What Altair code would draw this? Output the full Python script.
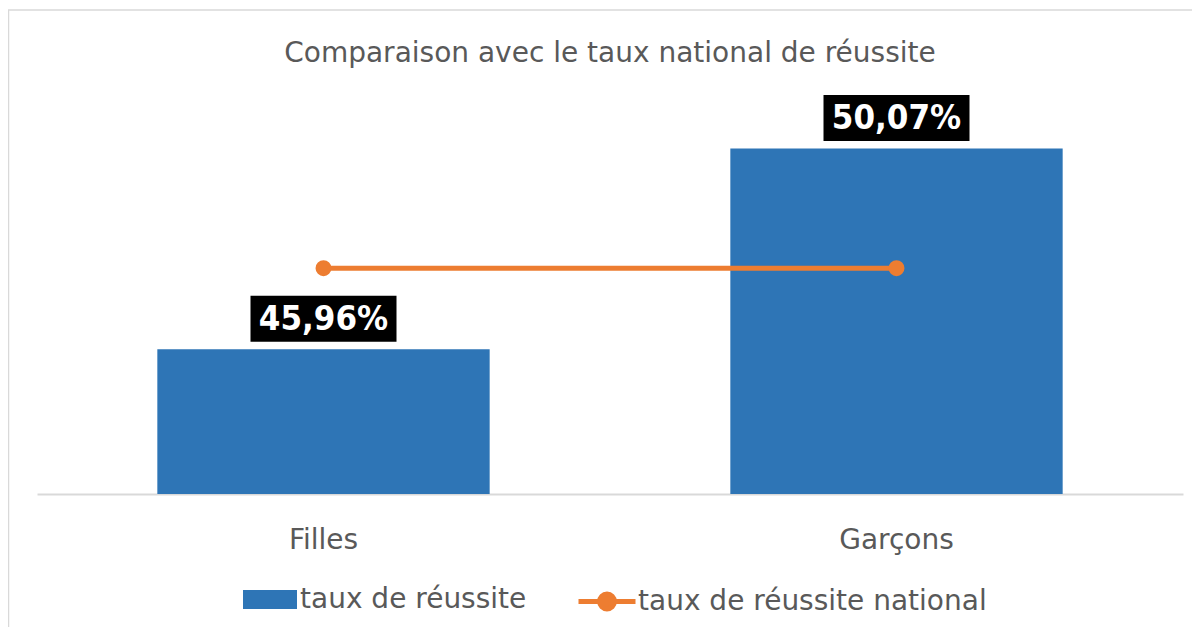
import altair as alt
import pandas as pd

categories = ["Filles", "Garçons"]
taux = [45.96, 50.07]
national = [47.62, 47.62]
labels = ["45,96%", "50,07%"]
series_bar = "taux de réussite"
series_line = "taux de réussite national"
Y_MIN, Y_MAX = 43, 51

BLUE = "#2E75B6"
ORANGE = "#ED7D31"
GREY_TXT = "#595959"
GREY_LN = "#D9D9D9"
FONT = "DejaVu Sans"

df = pd.DataFrame({
    "cat": categories,
    "taux": taux,
    "national": national,
    "label": labels,
    "s_bar": [series_bar] * len(categories),
    "s_line": [series_line] * len(categories),
})

x = alt.X(
    "cat:N", sort=categories, title=None,
    scale=alt.Scale(paddingInner=0.42, paddingOuter=0.21),
    axis=alt.Axis(domainColor=GREY_LN, domainWidth=2, ticks=False, tickSize=0,
                  labelAngle=0, labelFontSize=28, labelColor=GREY_TXT, labelFont=FONT,
                  labelPadding=54, labelBaseline="alphabetic", grid=False),
)
yscale = alt.Scale(domain=[Y_MIN, Y_MAX], zero=False, nice=False)

bars = alt.Chart(df).mark_bar().encode(
    x=x,
    y=alt.Y("taux:Q", scale=yscale, axis=None),
    y2=alt.datum(Y_MIN),
    fill=alt.Fill("s_bar:N", scale=alt.Scale(range=[BLUE]),
                  legend=alt.Legend(orient="none", legendX=206, legendY=469.5, title=None,
                                    symbolType="M-1,-0.352H1V0.352H-1Z", symbolSize=2916,
                                    symbolStrokeWidth=0, symbolOpacity=1,
                                    labelFontSize=28, labelFont=FONT, labelColor=GREY_TXT,
                                    labelOffset=3, labelLimit=600)),
)

line = alt.Chart(df).mark_line(strokeWidth=5).encode(
    x=x,
    y=alt.Y("national:Q", scale=yscale, axis=None),
    stroke=alt.Stroke("s_line:N", scale=alt.Scale(range=[ORANGE]),
                      legend=alt.Legend(orient="none", legendX=539, legendY=467.5, title=None,
                                        symbolType="M-1,0H1M0.26,0A0.26,0.26,0,1,1,-0.26,0A0.26,0.26,0,1,1,0.26,0",
                                        symbolSize=3249, symbolStrokeWidth=5,
                                        symbolFillColor=ORANGE, symbolOpacity=1,
                                        labelFontSize=28, labelFont=FONT, labelColor=GREY_TXT,
                                        labelOffset=0, labelLimit=600)),
)

dots = alt.Chart(df).mark_circle(size=254, color=ORANGE, opacity=1).encode(
    x=x, y=alt.Y("national:Q", scale=yscale, axis=None),
)

boxes = alt.Chart(df).mark_point(
    shape="M-1,-0.315H1V0.315H-1Z", size=21316, filled=True, color="black",
    opacity=1, yOffset=-30.5,
).encode(x=x, y=alt.Y("taux:Q", scale=yscale, axis=None))

texts = alt.Chart(df).mark_text(
    color="white", font="DejaVu Sans Condensed", fontWeight="bold", fontSize=34.5,
    baseline="middle", yOffset=-29,
).encode(x=x, y=alt.Y("taux:Q", scale=yscale, axis=None), text="label:N")

frame = pd.DataFrame({"a": [0]})
top_border = alt.Chart(frame).mark_rule(color=GREY_LN, strokeWidth=1.5).encode(
    x=alt.value(-29), x2=alt.value(1155), y=alt.value(-93))
left_border = alt.Chart(frame).mark_rule(color=GREY_LN, strokeWidth=1.5).encode(
    x=alt.value(-28.5), y=alt.value(-93), y2=alt.value(524))

chart = alt.layer(top_border, left_border, bars, line, dots, boxes, texts).resolve_scale(
    fill="independent", stroke="independent"
).properties(
    width=1146, height=391,
    title=alt.Title("Comparaison avec le taux national de réussite", fontSize=28, font=FONT,
                    fontWeight="normal", color=GREY_TXT, anchor="middle", offset=-81,
                    baseline="alphabetic"),
    padding={"left": 29, "top": 95, "right": 9, "bottom": 133},
    autosize="none",
).configure_view(stroke=None)

chart.save("out.html", embed_options={"renderer": "svg", "actions": False})
